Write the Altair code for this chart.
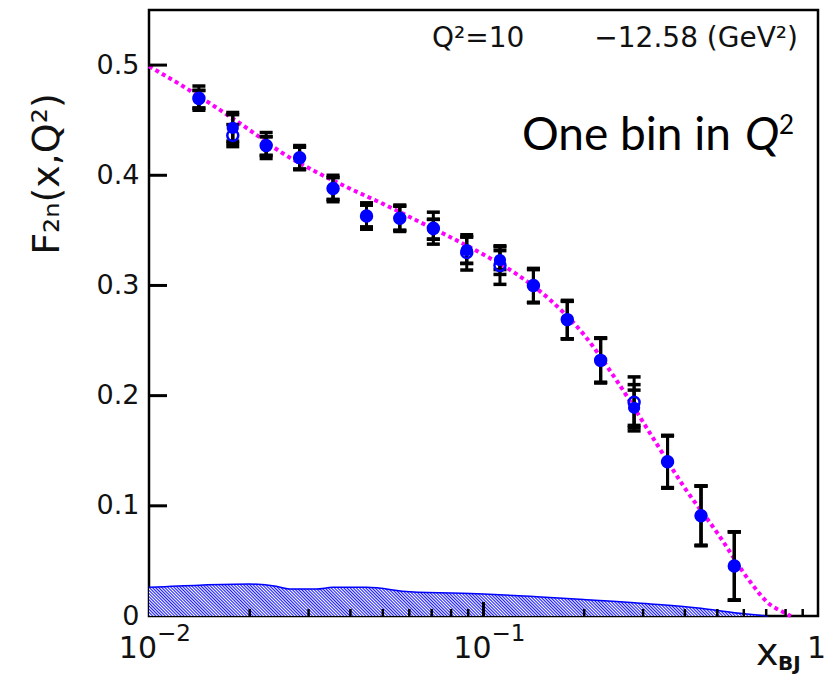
import altair as alt
import pandas as pd

# ---------------- data ----------------
pt_x = [0.0141, 0.0178, 0.0224, 0.0282, 0.0355, 0.0447, 0.0562, 0.0708, 0.0891,
        0.112, 0.141, 0.178, 0.224, 0.282, 0.355, 0.447, 0.562]
filled_y = [0.469, 0.443, 0.4265, 0.4156, 0.388, 0.363, 0.361, 0.351, 0.332,
            0.323, 0.2995, 0.2686, 0.232, 0.189, 0.140, 0.091, 0.0454]
filled_err = [0.008, 0.014, 0.0085, 0.010, 0.010, 0.010, 0.011, 0.009, 0.012,
              0.013, 0.015, 0.017, 0.020, 0.021, 0.0235, 0.027, 0.031]
inner_err = [0.008, 0.012, 0.0085, 0.010, 0.010, 0.010, 0.011, 0.009, 0.012,
             0.0086, 0.015, 0.017, 0.020, 0.016, 0.0235, 0.027, 0.031]
open_y = [0.470, 0.436, 0.427, 0.416, 0.388, 0.363, 0.361, 0.352, 0.330,
          0.318, 0.300, 0.269, 0.232, 0.194, 0.140, 0.091, 0.0454]
open_err = [0.011, 0.010, 0.0118, 0.011, 0.012, 0.012, 0.012, 0.0145, 0.016,
            0.017, 0.0155, 0.0175, 0.0205, 0.023, 0.024, 0.027, 0.031]

fit_x = [0.01, 0.0126, 0.0158, 0.02, 0.0251, 0.0316, 0.0398, 0.0501, 0.0631,
         0.0794, 0.1, 0.126, 0.158, 0.2, 0.251, 0.316, 0.398, 0.501, 0.631,
         0.708, 0.794, 0.83]
fit_y = [0.499, 0.481, 0.462, 0.441, 0.420, 0.403, 0.388, 0.374, 0.359,
         0.344, 0.328, 0.310, 0.287, 0.255, 0.213, 0.165, 0.117, 0.075, 0.030,
         0.012, 0.003, 0.0]

band_x = [0.01, 0.01413, 0.01995, 0.02399, 0.0263, 0.03162, 0.03548, 0.04467,
          0.06026, 0.1, 0.1445, 0.1995, 0.3162, 0.4467, 0.5623, 0.7079]
band_y = [0.026, 0.028, 0.029, 0.027, 0.0245, 0.0245, 0.026, 0.026,
          0.022, 0.020, 0.0175, 0.015, 0.011, 0.007, 0.003, 0.0]

y_ticks = [0.1, 0.2, 0.3, 0.4, 0.5]
y_labels = [0, 0.1, 0.2, 0.3, 0.4, 0.5]
x_major = [0.01, 0.1, 1.0]
x_base = ["10", "10", "1"]
x_exp = ["\u22122", "\u22121", ""]
x_minor = [0.02, 0.03, 0.04, 0.05, 0.06, 0.07, 0.08, 0.09,
           0.2, 0.3, 0.4, 0.5, 0.6, 0.7, 0.8, 0.9]

# ---------------- layout ----------------
W, H = 669, 606
xs = alt.Scale(type="log", domain=[0.01, 1])
ys = alt.Scale(domain=[0, 0.55])
yaxis = alt.Axis(values=y_labels, format=".1~f", ticks=False, domain=False,
                 grid=False, labelFontSize=27, labelFont="DejaVu Sans",
                 labelColor="#111111", labelPadding=10, title=None)
X = alt.X("x:Q", scale=xs, axis=None)
Y = alt.Y("y:Q", scale=ys, axis=yaxis)

pts = pd.DataFrame({"x": pt_x, "y": filled_y,
                    "lo": [a - b for a, b in zip(filled_y, filled_err)],
                    "hi": [a + b for a, b in zip(filled_y, filled_err)],
                    "lo2": [a - b for a, b in zip(filled_y, inner_err)],
                    "hi2": [a + b for a, b in zip(filled_y, inner_err)]})
opn = pd.DataFrame({"x": pt_x, "y": open_y,
                    "lo": [a - b for a, b in zip(open_y, open_err)],
                    "hi": [a + b for a, b in zip(open_y, open_err)]})
fit = pd.DataFrame({"x": fit_x, "y": fit_y})
band = pd.DataFrame({"x": band_x, "y": band_y})

# hatch pattern as a soft striped gradient
stops = []
n = 210
p = 1.0 / n
for i in range(n):
    a = i * p
    stops += [alt.GradientStop(offset=round(a, 6), color="#1c1cff"),
              alt.GradientStop(offset=round(a + 0.5 * p, 6), color="#ffffff")]
stops.append(alt.GradientStop(offset=1.0, color="#1c1cff"))
hatch = alt.LinearGradient(gradient="linear", x1=-0.03, y1=0.5, x2=1.03,
                           y2=0.4452, stops=stops)

band_area = alt.Chart(band).mark_area(interpolate="monotone", color=hatch).encode(x=X, y=Y)
band_line = alt.Chart(band).mark_line(interpolate="monotone", color="#0000ff",
                                      strokeWidth=1.5).encode(x=X, y=Y)

fit_line = alt.Chart(fit).mark_line(color="#ff00ff", strokeWidth=4,
                                    strokeDash=[4, 3.5], interpolate="monotone").encode(x=X, y=Y)

def errbars(df, lo, hi):
    v = alt.Chart(df).mark_rule(color="black", strokeWidth=3).encode(
        x=X, y=alt.Y(f"{lo}:Q", scale=ys, axis=yaxis), y2=f"{hi}:Q")
    c1 = alt.Chart(df).mark_tick(color="black", orient="horizontal", size=13,
                                 thickness=3.5, opacity=1).encode(
        x=X, y=alt.Y(f"{lo}:Q", scale=ys, axis=yaxis))
    c2 = alt.Chart(df).mark_tick(color="black", orient="horizontal", size=13,
                                 thickness=3.5, opacity=1).encode(
        x=X, y=alt.Y(f"{hi}:Q", scale=ys, axis=yaxis))
    return [v, c1, c2]

eb = errbars(pts, "lo", "hi") + errbars(pts, "lo2", "hi2") + errbars(opn, "lo", "hi")

open_pts = alt.Chart(opn).mark_point(shape="circle", filled=False, color="#0000ff",
                                     size=120, strokeWidth=2.5, opacity=1).encode(x=X, y=Y)
fill_pts = alt.Chart(pts).mark_point(shape="circle", filled=True, color="#0000ff",
                                     size=150, opacity=1).encode(x=X, y=Y)

# inward ticks
yt = alt.Chart(pd.DataFrame({"y": y_ticks})).mark_rule(color="black", strokeWidth=3).encode(
    y=Y, x=alt.value(0), x2=alt.value(18))
xt_major = alt.Chart(pd.DataFrame({"x": x_major[1:2]})).mark_rule(color="black", strokeWidth=3).encode(
    x=X, y=alt.value(H), y2=alt.value(H - 14))
xt_minor = alt.Chart(pd.DataFrame({"x": x_minor})).mark_rule(color="black", strokeWidth=2.5).encode(
    x=X, y=alt.value(H), y2=alt.value(H - 7))

xl = pd.DataFrame({"x": x_major, "base": x_base, "exp": x_exp})
xlab = alt.Chart(xl).mark_text(align="right", dx=8, fontSize=30, font="DejaVu Sans",
                               color="#111111", baseline="alphabetic").encode(
    x=X, y=alt.value(648), text="base:N")
xexp = alt.Chart(xl).mark_text(align="left", dx=8, fontSize=23, font="DejaVu Sans",
                               color="#111111", baseline="alphabetic").encode(
    x=X, y=alt.value(631), text="exp:N")

one = pd.DataFrame({"k": [0]})
def txt(s, x, y, **kw):
    return alt.Chart(one).mark_text(text=s, **kw).encode(x=alt.value(x), y=alt.value(y))

texts = [
    txt("x", 607, 655, align="left", baseline="alphabetic", fontSize=38,
        font="DejaVu Sans", color="#111111"),
    txt("BJ", 629, 660, align="left", baseline="alphabetic", fontSize=20,
        font="DejaVu Sans", fontWeight="bold", color="#111111"),
    txt("F\u2082\u2099(x,Q\u00b2)", -101, 164, align="center", baseline="middle",
        angle=270, fontSize=38, font="DejaVu Sans", color="#111111"),
    txt("Q\u00b2=10", 283, 37, align="left", baseline="alphabetic", fontSize=28,
        font="DejaVu Sans", color="#111111"),
    txt("\u221212.58 (GeV\u00b2)", 649, 37, align="right", baseline="alphabetic",
        fontSize=28, font="DejaVu Sans", color="#111111"),
    txt("One bin in", 582, 140, align="right", baseline="alphabetic", fontSize=46,
        font="Lato", color="#000000"),
    txt("Q", 596, 140, align="left", baseline="alphabetic", fontSize=46,
        font="Lato", fontStyle="italic", color="#000000"),
    txt("2", 630, 124, align="left", baseline="alphabetic", fontSize=26,
        font="Lato", color="#000000"),
]

chart = alt.layer(band_area, band_line, fit_line, *eb, open_pts, fill_pts,
                  yt, xt_major, xt_minor, xlab, xexp, *texts).properties(
    width=W, height=H,
    autosize=alt.AutoSizeParams(type="none"),
    padding={"left": 149, "top": 10, "right": 9, "bottom": 58},
    background="white",
).configure_view(stroke="black", strokeWidth=2.5)

chart.save("out.html", embed_options={"renderer": "svg", "actions": False})
